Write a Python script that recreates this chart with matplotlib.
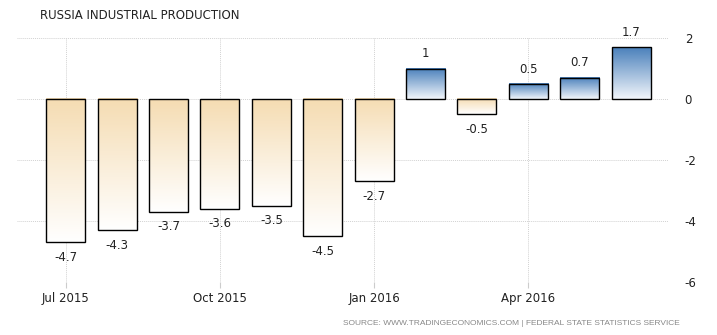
import numpy as np
import matplotlib
matplotlib.use("Agg")
import matplotlib.pyplot as plt
from matplotlib.colors import LinearSegmentedColormap

months = ["Jul 2015", "Aug 2015", "Sep 2015", "Oct 2015", "Nov 2015", "Dec 2015",
          "Jan 2016", "Feb 2016", "Mar 2016", "Apr 2016", "May 2016", "Jun 2016"]
values = [-4.7, -4.3, -3.7, -3.6, -3.5, -4.5, -2.7, 1.0, -0.5, 0.5, 0.7, 1.7]
value_labels = ["-4.7", "-4.3", "-3.7", "-3.6", "-3.5", "-4.5", "-2.7", "1", "-0.5", "0.5", "0.7", "1.7"]
tick_months = ["Jul 2015", "Oct 2015", "Jan 2016", "Apr 2016"]
yticks = [2, 0, -2, -4, -6]

fig = plt.figure(figsize=(7.17, 3.35), dpi=100)
ax = fig.add_axes([0.0237, 0.158, 0.908, 0.728])

x = np.arange(len(months))
bars = ax.bar(x, values, width=0.76, facecolor="none", edgecolor="black", linewidth=1.0, zorder=3)

neg_cmap = LinearSegmentedColormap.from_list("neg", ["#ffffff", "#f5dcb2"])
pos_cmap = LinearSegmentedColormap.from_list("pos", ["#f2f6fb", "#4a80bb"])
grad = np.linspace(0, 1, 256).reshape(-1, 1)

# gradient fill inside each bar
for b, v in zip(bars, values):
    x0, w = b.get_x(), b.get_width()
    y0, h = b.get_y(), b.get_height()
    top, bottom = max(y0, y0 + h), min(y0, y0 + h)
    cmap = pos_cmap if v > 0 else neg_cmap
    ax.imshow(grad, cmap=cmap, aspect="auto", origin="lower",
              extent=(x0, x0 + w, bottom, top), zorder=2)

for xi, v, lab in zip(x, values, value_labels):
    if v >= 0:
        ax.annotate(lab, (xi, v), xytext=(0, 6), textcoords="offset points",
                    ha="center", va="bottom", fontsize=8.5, color="#222222")
    else:
        ax.annotate(lab, (xi, v), xytext=(0, -6), textcoords="offset points",
                    ha="center", va="top", fontsize=8.5, color="#222222")

ax.set_xlim(-0.95, 11.72)
ax.set_ylim(-6, 2)

ax.set_xticks([months.index(m) for m in tick_months])
ax.set_xticklabels(tick_months, fontsize=8.5, color="#222222")
ax.set_yticks(yticks)
ax.set_yticklabels([str(t) for t in yticks], fontsize=8.5, color="#222222")
ax.yaxis.tick_right()
ax.tick_params(axis="y", length=0, pad=12)
ax.tick_params(axis="x", length=4, color="#cccccc", pad=3)

ax.grid(True, color="#d2d2d2", linestyle=(0, (1, 1)), linewidth=0.7, zorder=0)
ax.set_axisbelow(True)
for s in ax.spines.values():
    s.set_visible(False)

fig.text(0.056, 0.955, "RUSSIA INDUSTRIAL PRODUCTION", fontsize=8.5, color="#222222",
         ha="left", va="center")
fig.text(0.948, 0.035, "SOURCE: WWW.TRADINGECONOMICS.COM | FEDERAL STATE STATISTICS SERVICE",
         fontsize=6, family="Liberation Sans", color="#888888", ha="right", va="center")

fig.savefig("out.png", dpi=100)
